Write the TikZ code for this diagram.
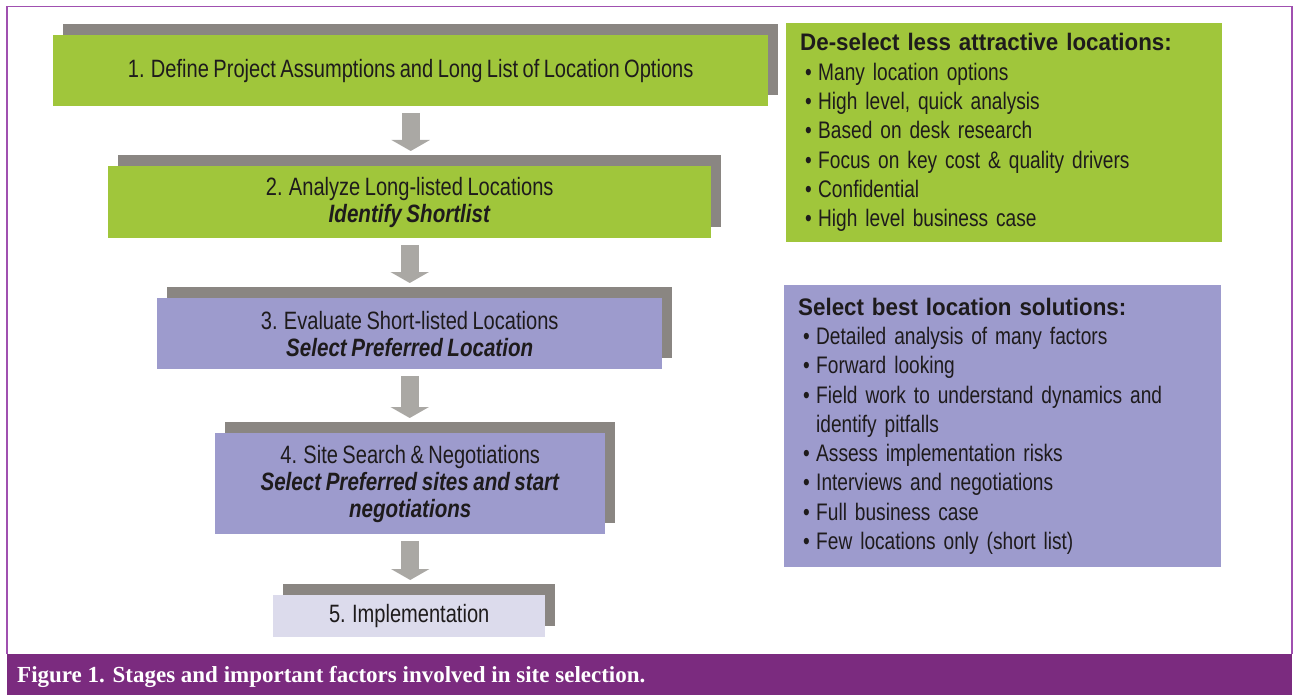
\documentclass[tikz,border=0pt]{standalone}
\usepackage{fontspec}
\setmainfont{Liberation Sans}[FakeStretch=0.8, WordSpace=0.8, BoldFeatures={FakeStretch=0.935}, BoldItalicFeatures={FakeStretch=0.82}]
\newfontfamily\capfont{Liberation Serif}
\usetikzlibrary{arrows.meta,shadows}
\definecolor{lime}{HTML}{A0C63B}
\definecolor{lav}{HTML}{9D9BCD}
\definecolor{palelav}{HTML}{DCDBEC}
\definecolor{shadowgray}{HTML}{8A8682}
\definecolor{arrowgray}{HTML}{AAA8A4}
\definecolor{capbar}{HTML}{7B2B7F}
\definecolor{frameline}{HTML}{A050B0}
\definecolor{ink}{HTML}{1E1B1C}
\tikzset{
  stagebox/.style={draw=none, inner sep=0pt, anchor=north west, align=center,
    text=ink, font=\fontsize{25.1}{27}\selectfont,
    general shadow={fill=shadowgray, shadow xshift=10pt, shadow yshift=11pt}},
  infobox/.style={draw=none, anchor=north west, align=left, inner xsep=14pt,
    inner ysep=0pt, text=ink, font=\fontsize{23.9}{29.3}\selectfont},
  bigarrow/.style={draw=arrowgray, line width=18pt,
    -{Triangle[width=38pt,length=11pt]}, shorten <=6.5pt, shorten >=15pt},
}
\newcommand{\bul}{\hspace*{5pt}\makebox[13pt][l]{\textbullet}}
\newcommand{\cont}{\hspace*{18pt}}
\begin{document}
\begin{tikzpicture}[x=1pt,y=-1pt]
\useasboundingbox (0,0) rectangle (1295,695);
% frame and caption bar
\draw[frameline, line width=1.4pt] (7,654) -- (7,6.5) -- (1292,6.5) -- (1292,654);
\node[fill=capbar, minimum width=1285pt, minimum height=41pt, inner sep=0pt, anchor=north west] (bar) at (7,654) {};
\node[anchor=west, text=white, font=\capfont\bfseries\fontsize{23}{26}\selectfont, inner sep=0pt] (cap) at (17,677)
  {Figure 1. Stages and important factors involved in site selection.};
% stage boxes
\node[stagebox, fill=lime, minimum width=715pt, minimum height=71pt] (b1) at (53,35)
  {1. Define Project Assumptions and Long List of Location Options};
\node[stagebox, fill=lime, minimum width=603pt, minimum height=72pt] (b2) at (108,166)
  {2. Analyze Long-listed Locations\\ \textbf{\textit{Identify Shortlist}}};
\node[stagebox, fill=lav, minimum width=505pt, minimum height=71pt] (b3) at (157,298)
  {3. Evaluate Short-listed Locations\\ \textbf{\textit{Select Preferred Location}}};
\node[stagebox, fill=lav, minimum width=390pt, minimum height=101pt] (b4) at (215,433)
  {4. Site Search \& Negotiations\\ \textbf{\textit{Select Preferred sites and start}}\\ \textbf{\textit{negotiations}}};
\node[stagebox, fill=palelav, minimum width=272pt, minimum height=42pt] (b5) at (273,595)
  {5. Implementation};
% arrows
\draw[bigarrow] (b1.south) -- (b1.south |- b2.north);
\draw[bigarrow] (b2.south) -- (b2.south |- b3.north);
\draw[bigarrow] (b3.south) -- (b3.south |- b4.north);
\draw[bigarrow] (b4.south) -- (b4.south |- b5.north);
% info boxes
\node[infobox, fill=lime, minimum width=436pt, minimum height=219pt, text width=408pt] (r1) at (786,23)
  {\textbf{De-select less attractive locations:}\\
   \bul Many location options\\
   \bul High level, quick analysis\\
   \bul Based on desk research\\
   \bul Focus on key cost \& quality drivers\\
   \bul Confidential\\
   \bul High level business case\\[-2pt]};
\node[infobox, fill=lav, minimum width=437pt, minimum height=282pt, text width=409pt] (r2) at (784,285)
  {\textbf{Select best location solutions:}\\
   \bul Detailed analysis of many factors\\
   \bul Forward looking\\
   \bul Field work to understand dynamics and\\
   \cont identify pitfalls\\
   \bul Assess implementation risks\\
   \bul Interviews and negotiations\\
   \bul Full business case\\
   \bul Few locations only (short list)\\[-2pt]};
\end{tikzpicture}
\end{document}
